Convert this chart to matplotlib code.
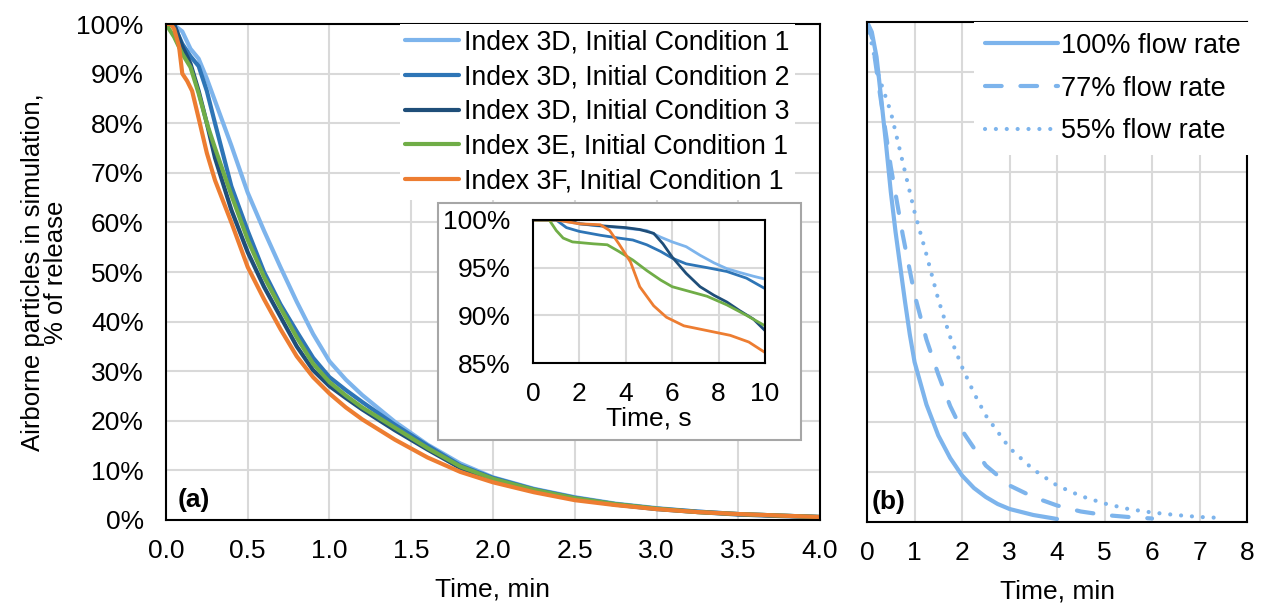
import matplotlib.pyplot as plt
from matplotlib.patches import Rectangle
from matplotlib.ticker import FuncFormatter

plt.rcParams['font.family'] = ['Liberation Sans', 'DejaVu Sans']

# panel (a): time in minutes, airborne particles in % of release
t_a = [0, 0.05, 0.1, 0.15, 0.2, 0.25, 0.3, 0.4, 0.5, 0.6, 0.7, 0.8, 0.9, 1.0, 1.1,
       1.2, 1.4, 1.6, 1.8, 2.0, 2.25, 2.5, 2.75, 3.0, 3.25, 3.5, 3.75, 4.0]
d3_ic1 = [100, 99.8, 98.5, 95, 93, 89, 84.5, 75.5, 66, 58.3, 51, 44, 37.5, 32, 28.3,
          25.2, 19.8, 15.2, 11.4, 8.6, 6.3, 4.6, 3.3, 2.4, 1.7, 1.2, 0.9, 0.6]
d3_ic2 = [100, 99.7, 96, 93.5, 91.5, 86.5, 80, 67.3, 58.3, 50, 43.5, 38, 32.7, 28.8, 26.2,
          23.8, 19.2, 15, 11, 8.5, 6.2, 4.5, 3.2, 2.3, 1.7, 1.2, 0.9, 0.6]
d3_ic3 = [100, 100, 95.5, 92, 86.5, 80, 73, 62.5, 54, 47, 41, 35, 30.2, 27, 24.6,
          22.3, 18.1, 14.2, 10.5, 8.1, 6, 4.3, 3.1, 2.2, 1.6, 1.1, 0.8, 0.6]
e3_ic1 = [100, 97.4, 94, 91.3, 86, 80, 75, 65.5, 56.5, 49, 42.8, 36.8, 31.5, 27.8, 25.1,
          22.7, 18.6, 14.5, 10.8, 8.3, 6.1, 4.4, 3.2, 2.3, 1.6, 1.2, 0.9, 0.6]
t_f = [0, 0.03, 0.05, 0.08, 0.1, 0.13, 0.16, 0.2, 0.25, 0.3, 0.4, 0.5, 0.6, 0.7, 0.8,
       0.9, 1.0, 1.1, 1.2, 1.4, 1.6, 1.8, 2.0, 2.25, 2.5, 2.75, 3.0, 3.25, 3.5, 3.75, 4.0]
f3_ic1 = [100, 100, 99, 95.5, 90, 88.5, 86.5, 81, 74, 68.5, 60, 51, 44.5, 38.5, 33,
          28.8, 25.5, 22.7, 20.3, 16.2, 12.6, 9.7, 7.6, 5.6, 4.0, 3.0, 2.2, 1.6, 1.2, 0.9, 0.6]

# inset: first 10 seconds
ti_d1 = [0, 1.0, 2.0, 2.7, 3.7, 4.9, 5.5, 6.0, 6.6, 7.2, 7.8, 8.35, 8.9, 9.5, 10]
vi_d1 = [100, 100, 99.6, 99.4, 99.2, 98.9, 98.2, 97.7, 97.2, 96.3, 95.5, 94.9, 94.5, 94.1, 93.8]
ti_d2 = [0, 1.0, 1.44, 2.0, 2.9, 3.7, 4.3, 4.9, 5.5, 6.0, 6.6, 7.5, 8.35, 9.2, 10]
vi_d2 = [100, 100, 99.2, 98.8, 98.4, 98.1, 97.9, 97.4, 96.7, 96.0, 95.4, 95.0, 94.6, 93.9, 92.8]
ti_d3 = [0, 1.5, 2.0, 2.9, 4.0, 4.6, 5.2, 5.6, 6.0, 6.6, 7.2, 7.8, 8.35, 8.9, 9.5, 10]
vi_d3 = [100, 100, 99.6, 99.4, 99.2, 99.0, 98.6, 97.5, 96.1, 94.4, 93.0, 92.1, 91.4, 90.5, 89.6, 88.4]
ti_e1 = [0, 0.7, 1.0, 1.3, 1.7, 2.6, 3.2, 3.7, 4.3, 4.9, 5.5, 6.0, 6.6, 7.5, 8.35, 9.2, 10]
vi_e1 = [100, 100, 98.9, 98.1, 97.7, 97.5, 97.4, 96.7, 95.8, 94.7, 93.7, 93.0, 92.6, 92.0, 91.1, 90.0, 88.9]
ti_f1 = [0, 1.0, 2.0, 2.9, 3.3, 3.7, 4.2, 4.6, 5.2, 5.75, 6.5, 7.5, 8.5, 9.3, 10]
vi_f1 = [100, 100, 99.6, 99.5, 98.9, 97.5, 95.6, 93.0, 91.0, 89.8, 88.9, 88.4, 87.9, 87.2, 86.1]

# panel (b): flow rate comparison
tb_100 = [0, 0.1, 0.2, 0.3, 0.4, 0.5, 0.6, 0.7, 0.8, 0.9, 1.0, 1.25, 1.5, 1.75, 2.0,
          2.25, 2.5, 2.75, 3.0, 3.5, 4.0]
vb_100 = [100, 98, 93, 84.5, 75.5, 66, 58, 51, 44, 37.5, 32, 23.5, 17.3, 12.8, 9.3,
          6.8, 5, 3.6, 2.6, 1.4, 0.6]
tb_77 = [0, 0.1, 0.25, 0.5, 0.75, 1.0, 1.25, 1.5, 1.75, 2.0, 2.5, 3.0, 3.5, 4.0, 4.5, 5.0, 5.5, 6.0]
vb_77 = [100, 97, 87, 71, 57.5, 45.5, 36.5, 29.5, 23.2, 18.3, 11.3, 7.3, 5, 3.3, 2.1, 1.4, 1.0, 0.7]
tb_55 = [0, 0.1, 0.25, 0.5, 0.75, 1.0, 1.25, 1.5, 1.75, 2.0, 2.25, 2.5, 3.0, 3.5,
         4.0, 4.5, 5.0, 5.5, 6.0, 6.5, 7.0, 7.5]
vb_55 = [100, 95.5, 89, 82, 72, 62, 53.5, 44.5, 37, 31, 25.8, 21.3, 14.8, 10.5,
         7.3, 5.2, 3.7, 2.6, 1.9, 1.4, 1.0, 0.8]

labels = ['Index 3D, Initial Condition 1', 'Index 3D, Initial Condition 2',
          'Index 3D, Initial Condition 3', 'Index 3E, Initial Condition 1',
          'Index 3F, Initial Condition 1']
colors = ['#7DB4EC', '#2E75B6', '#1F4E79', '#70AD47', '#ED7D31']
grid_c = '#D9D9D9'
fs = 19
pct = FuncFormatter(lambda v, p: '%d%%' % round(v))

fig = plt.figure(figsize=(12.61, 6.05), dpi=100)

# ---- panel (a)
ax = fig.add_axes([0.1316, 0.1405, 0.5187, 0.8198])
series = [(t_a, d3_ic1), (t_a, d3_ic2), (t_a, d3_ic3), (t_a, e3_ic1), (t_f, f3_ic1)]
for (x, y), c, lab in zip(series, colors, labels):
    ax.plot(x, y, color=c, lw=3, label=lab, solid_capstyle='round', solid_joinstyle='round')
ax.set_xlim(0, 4)
ax.set_ylim(0, 100)
ax.set_xticks([i * 0.5 for i in range(9)])
ax.set_xticklabels(['%.1f' % (i * 0.5) for i in range(9)])
ax.set_yticks(range(0, 101, 10))
ax.yaxis.set_major_formatter(pct)
ax.grid(True, color=grid_c, lw=1.5)
ax.set_axisbelow(True)
ax.tick_params(length=0, labelsize=fs)
ax.tick_params(axis='y', pad=16)
ax.tick_params(axis='x', pad=14)
for s in ax.spines.values():
    s.set_linewidth(1.5)
ax.set_xlabel('Time, min', fontsize=fs, labelpad=10)
ax.set_ylabel('Airborne particles in simulation,\n% of release', fontsize=18.5, linespacing=0.95)
ax.yaxis.set_label_coords(-0.15, 0.5)
ax.text(0.018, 0.04, '(a)', transform=ax.transAxes, fontsize=fs, fontweight='bold', va='center')
ax.legend(loc='upper left', bbox_to_anchor=(0.358, 1.0), borderaxespad=0, fontsize=19.2,
          handlelength=2.0, handletextpad=0.2, labelspacing=0.33, borderpad=0.2,
          frameon=True, fancybox=False, framealpha=1, edgecolor='none', facecolor='white')

# inset frame
ax.add_patch(Rectangle((0.3473, 0.2727), 0.2879, 0.3918, transform=fig.transFigure,
                       facecolor='white', edgecolor='#A6A6A6', lw=1.5, zorder=5, clip_on=False))
axi = fig.add_axes([0.4227, 0.4, 0.184, 0.2364])
inset = [(ti_d1, vi_d1), (ti_d2, vi_d2), (ti_d3, vi_d3), (ti_e1, vi_e1), (ti_f1, vi_f1)]
for (x, y), c in zip(inset, colors):
    axi.plot(x, y, color=c, lw=2, solid_joinstyle='round')
axi.set_xlim(0, 10)
axi.set_ylim(85, 100)
axi.set_xticks(range(0, 11, 2))
axi.set_yticks([85, 90, 95, 100])
axi.yaxis.set_major_formatter(pct)
axi.grid(True, color=grid_c, lw=1.5)
axi.set_axisbelow(True)
axi.tick_params(length=0, labelsize=fs)
axi.tick_params(axis='y', pad=16)
axi.tick_params(axis='x', pad=14)
for s in axi.spines.values():
    s.set_linewidth(1.5)
axi.set_xlabel('Time, s', fontsize=fs, labelpad=0)

# ---- panel (b)
axb = fig.add_axes([0.6876, 0.1372, 0.3013, 0.8264])
lc = colors[0]
axb.plot(tb_100, vb_100, color=lc, lw=3, label='100% flow rate',
         solid_capstyle='round', solid_joinstyle='round')
axb.plot(tb_77, vb_77, color=lc, lw=3, dashes=(4, 4.5), dash_capstyle='round', label='77% flow rate')
axb.plot(tb_55, vb_55, color=lc, lw=3, dashes=(0.01, 2.6), dash_capstyle='round', label='55% flow rate')
axb.set_xlim(0, 8)
axb.set_ylim(0, 100)
axb.set_xticks(range(9))
axb.set_yticks(range(0, 101, 10))
axb.set_yticklabels([])
axb.grid(True, color=grid_c, lw=1.5)
axb.set_axisbelow(True)
axb.tick_params(length=0, labelsize=fs)
axb.tick_params(axis='x', pad=14)
for s in axb.spines.values():
    s.set_linewidth(1.5)
axb.set_xlabel('Time, min', fontsize=fs, labelpad=10)
axb.text(0.012, 0.04, '(b)', transform=axb.transAxes, fontsize=fs, fontweight='bold', va='center')
axb.legend(loc='upper left', bbox_to_anchor=(0.282, 1.0), borderaxespad=0, fontsize=19.5,
           handlelength=2.7, handletextpad=0.12, labelspacing=0.62, borderpad=0.4,
           frameon=True, fancybox=False, framealpha=1, edgecolor='none', facecolor='white')

fig.savefig('out.png', dpi=100)
